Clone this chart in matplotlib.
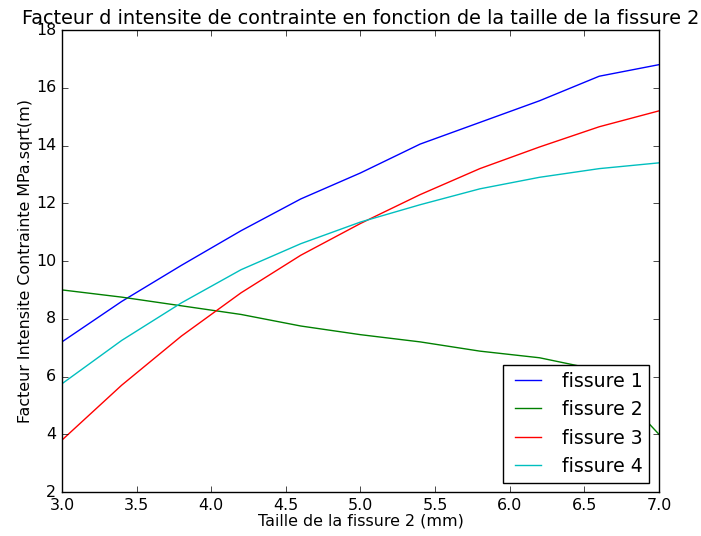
import numpy as np
import matplotlib
matplotlib.use('Agg')
import matplotlib.pyplot as plt

plt.style.use('classic')

# taille de la fissure 2 (mm)
taille = [3.0, 3.4, 3.8, 4.2, 4.6, 5.0, 5.4, 5.8, 6.2, 6.6, 7.0]

# facteur d'intensite de contrainte (MPa.sqrt(m))
fissure1 = [7.2, 8.6, 9.85, 11.05, 12.15, 13.05, 14.05, 14.8, 15.55, 16.4, 16.8]
fissure2 = [9.0, 8.75, 8.45, 8.15, 7.75, 7.45, 7.2, 6.88, 6.65, 6.22, 4.0]
fissure3 = [3.8, 5.7, 7.4, 8.9, 10.2, 11.3, 12.3, 13.2, 13.95, 14.65, 15.2]
fissure4 = [5.75, 7.25, 8.55, 9.7, 10.6, 11.35, 11.95, 12.5, 12.9, 13.2, 13.4]

plt.rcParams['font.size'] = 11.4

fig = plt.figure(figsize=(7.01, 5.36), dpi=100)
ax = fig.add_axes([0.0884, 0.082, 0.8516, 0.862])

ax.plot(taille, fissure1, color='b', label='fissure 1')
ax.plot(taille, fissure2, color='g', label='fissure 2')
ax.plot(taille, fissure3, color='r', label='fissure 3')
ax.plot(taille, fissure4, color='c', label='fissure 4')

ax.set_xlim(3.0, 7.0)
ax.set_ylim(2, 18)
ax.set_title("Facteur d intensite de contrainte en fonction de la taille de la fissure 2",
             fontsize=13.9, pad=4)
ax.set_xlabel("Taille de la fissure 2 (mm)", labelpad=1)
ax.set_ylabel("Facteur Intensite Contrainte MPa.sqrt(m)", labelpad=2)
ax.legend(loc='lower right', fontsize=13.6, borderpad=0.35)

fig.savefig('out.png', dpi=100)
